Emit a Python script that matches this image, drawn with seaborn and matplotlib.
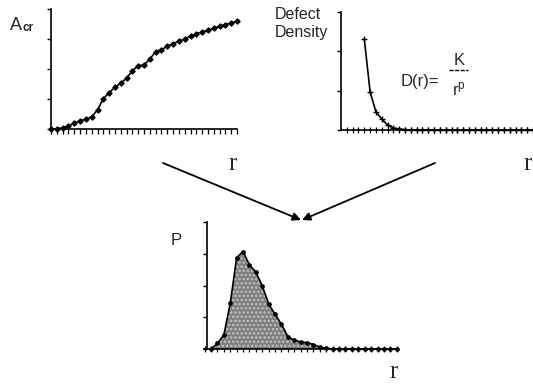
import matplotlib
matplotlib.use('Agg')
import matplotlib.pyplot as plt
import seaborn as sns

# critical area A_cr against defect size r (top left)
r_acr = list(range(33))
acr = [0, 0.01, 0.04, 0.09, 0.2, 0.27, 0.33, 0.4, 0.64, 1.01, 1.21, 1.39, 1.53, 1.69, 1.94, 2.11,
       2.13, 2.33, 2.58, 2.64, 2.76, 2.84, 2.93, 3.0, 3.09, 3.18, 3.23, 3.29, 3.36, 3.42, 3.48, 3.53, 3.59]

# defect density D(r) = K / r^p (top right)
r_density = list(range(4, 34))
density = [2.32, 0.97, 0.46, 0.28, 0.13, 0.05, 0.03, 0.01, 0, 0, 0, 0, 0, 0, 0,
           0, 0, 0, 0, 0, 0, 0, 0, 0, 0, 0, 0, 0, 0, 0]

# product P(r) (bottom)
r_prob = list(range(30))
prob = [0, 0.18, 0.44, 1.44, 2.88, 3.07, 2.65, 2.42, 1.99, 1.42, 1.09, 0.78, 0.39, 0.28, 0.22,
        0.2, 0.14, 0.06, 0.02, 0, 0, 0, 0, 0, 0, 0, 0, 0, 0, 0]

sns.set_style('ticks')
plt.rcParams['font.family'] = ['Liberation Sans', 'DejaVu Sans']
plt.rcParams['hatch.linewidth'] = 1.2

W, H = 533, 385
fig = plt.figure(figsize=(W / 100, H / 100), dpi=100)


def box(l, t, r, b):
    return [l / W, 1 - b / H, (r - l) / W, (b - t) / H]


# overlay in pixel coords for texts and arrows
ax0 = fig.add_axes([0, 0, 1, 1])
ax0.set_xlim(0, W)
ax0.set_ylim(H, 0)
ax0.axis('off')

ax1 = fig.add_axes(box(51, 9, 237, 129))
sns.lineplot(x=r_acr, y=acr, ax=ax1, color='black', marker='D', markersize=2.8,
             markeredgecolor='black', linewidth=1.2, clip_on=False)
ax1.set_xlim(0, 32)
ax1.set_ylim(0, 4)
ax1.set_xticks(r_acr)
ax1.set_yticks(range(5))

ax2 = fig.add_axes(box(341, 12, 533, 130))
sns.lineplot(x=r_density, y=density, ax=ax2, color='black', marker='+', markersize=4.5,
             markeredgecolor='black', markeredgewidth=1, linewidth=1.2, clip_on=False)
ax2.set_xlim(0, 33)
ax2.set_ylim(0, 3)
ax2.set_xticks(range(1, 34))
ax2.set_yticks(range(4))

ax3 = fig.add_axes(box(204, 222, 398, 349))
ax3.fill_between(r_prob, prob, 0, facecolor='#7e7e7e', edgecolor='#c4c4c4', hatch='....', linewidth=0)
sns.lineplot(x=r_prob, y=prob, ax=ax3, color='black', marker='o', markersize=2.6,
             markeredgecolor='black', linewidth=1.2, clip_on=False)
ax3.set_xlim(-1.1, 29.2)
ax3.set_ylim(0, 4)
ax3.set_xticks(range(-1, 30))
ax3.set_yticks(range(5))
ax3.spines['left'].set_position(('data', -0.6))

for ax in (ax1, ax2, ax3):
    sns.despine(ax=ax)
    ax.set_facecolor('none')
    ax.set_xlabel('')
    ax.set_ylabel('')
    ax.set_xticklabels([])
    ax.set_yticklabels([])
    for s in ('left', 'bottom'):
        ax.spines[s].set_linewidth(1.2)
        ax.spines[s].set_color('black')
    ax.tick_params(axis='y', direction='out', length=3, width=1, color='black')
ax1.tick_params(axis='x', direction='out', length=3.5, width=0.9, color='black')
ax2.tick_params(axis='x', direction='inout', length=4, width=0.9, color='black')
ax3.tick_params(axis='x', direction='inout', length=4, width=0.9, color='black')

# labels
ax0.text(10, 30, 'A', fontsize=13, ha='left', va='baseline')
ax0.text(22.5, 31, 'cr', fontsize=8.5, ha='left', va='baseline', fontweight='bold')
ax0.text(275, 19, 'Defect', fontsize=11.5, ha='left', va='baseline')
ax0.text(275, 37, 'Density', fontsize=11.5, ha='left', va='baseline')
ax0.text(401, 86, 'D(r)=', fontsize=12, ha='left', va='baseline')
ax0.text(459, 65, 'K', fontsize=12, ha='center', va='baseline')
ax0.plot([449, 468], [70, 70], color='black', linewidth=1, linestyle=(0, (3, 1)))
ax0.text(453, 95, 'r', fontsize=12, ha='left', va='baseline')
ax0.text(457.5, 89, 'p', fontsize=8.5, ha='left', va='baseline')
ax0.text(176, 245, 'P', fontsize=12, ha='center', va='baseline')

for x, y in [(233, 170), (528, 170), (394, 378)]:
    ax0.text(x, y, 'r', fontsize=18, family=['Liberation Serif', 'DejaVu Serif'],
             ha='center', va='baseline')

# arrows
ax0.annotate('', xy=(301, 220), xytext=(163, 163),
             arrowprops=dict(arrowstyle='-|>', color='black', lw=1.3, mutation_scale=12,
                             shrinkA=0, shrinkB=0))
ax0.annotate('', xy=(302, 220), xytext=(435, 163),
             arrowprops=dict(arrowstyle='-|>', color='black', lw=1.3, mutation_scale=12,
                             shrinkA=0, shrinkB=0))

fig.savefig('out.png', dpi=100)
